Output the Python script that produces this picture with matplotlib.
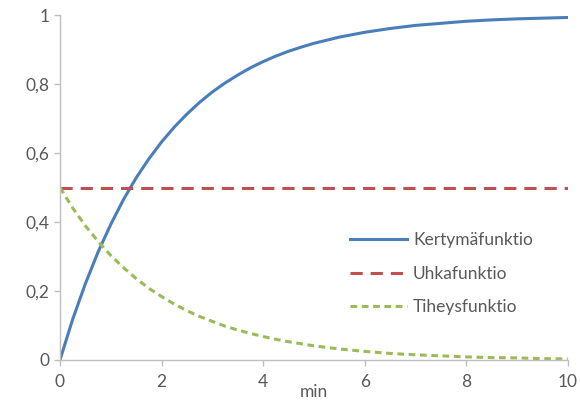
import matplotlib
matplotlib.use("Agg")
import matplotlib.pyplot as plt

# arvot luettu kuvasta
aika = [0, 0.25, 0.5, 0.75, 1, 1.25, 1.5, 1.75, 2, 2.25, 2.5, 2.75, 3, 3.25,
        3.5, 3.75, 4, 4.25, 4.5, 4.75, 5, 5.5, 6, 6.5, 7, 7.5, 8, 8.5, 9,
        9.5, 10]
kertyma = [0, 0.118, 0.221, 0.313, 0.393, 0.465, 0.528, 0.583, 0.632, 0.675,
           0.713, 0.747, 0.777, 0.803, 0.826, 0.847, 0.865, 0.881, 0.895,
           0.907, 0.918, 0.936, 0.950, 0.961, 0.970, 0.976, 0.982, 0.986,
           0.989, 0.991, 0.993]
uhka = [0.5] * len(aika)
tiheys = [0.5, 0.441, 0.389, 0.344, 0.303, 0.268, 0.236, 0.208, 0.184, 0.162,
          0.143, 0.126, 0.112, 0.098, 0.087, 0.077, 0.068, 0.060, 0.053,
          0.047, 0.041, 0.032, 0.025, 0.019, 0.015, 0.012, 0.009, 0.007,
          0.006, 0.004, 0.003]

plt.rcParams['font.family'] = ['Lato', 'DejaVu Sans']
harmaa = '#595959'
koko = 12.5

fig = plt.figure(figsize=(5.8, 4.07), dpi=100)
ax = fig.add_axes([0.1034, 0.1155, 0.8755, 0.8475])

lw = 2.2
ax.plot(aika, kertyma, color='#4A7EBB', lw=lw, label='Kertymäfunktio')
ax.plot(aika, uhka, color='#C0504D', lw=lw, dashes=(4, 2.6), label='Uhkafunktio')
ax.plot(aika, tiheys, color='#9BBB59', lw=lw, dashes=(2.2, 1.5), label='Tiheysfunktio')

ax.set_xlim(0, 10)
ax.set_ylim(0, 1)
ax.set_xticks([0, 2, 4, 6, 8, 10])
ax.set_yticks([0, 0.2, 0.4, 0.6, 0.8, 1])
ax.set_yticklabels(['0', '0,2', '0,4', '0,6', '0,8', '1'])

for s in ['top', 'right']:
    ax.spines[s].set_visible(False)
for s in ['left', 'bottom']:
    ax.spines[s].set_color('#BFBFBF')
    ax.spines[s].set_linewidth(1)
ax.tick_params(colors='#BFBFBF', labelcolor=harmaa, labelsize=koko, length=4, width=1)
ax.tick_params(axis='x', pad=6)

ax.set_xlabel('min', fontsize=koko, color=harmaa, labelpad=-4)

ax.legend(loc='upper left', bbox_to_anchor=(0.557, 0.39), frameon=False,
          fontsize=koko, handlelength=3.3, handletextpad=0.35, labelspacing=1.0,
          labelcolor=harmaa, borderaxespad=0)

fig.savefig('out.png', dpi=100)
